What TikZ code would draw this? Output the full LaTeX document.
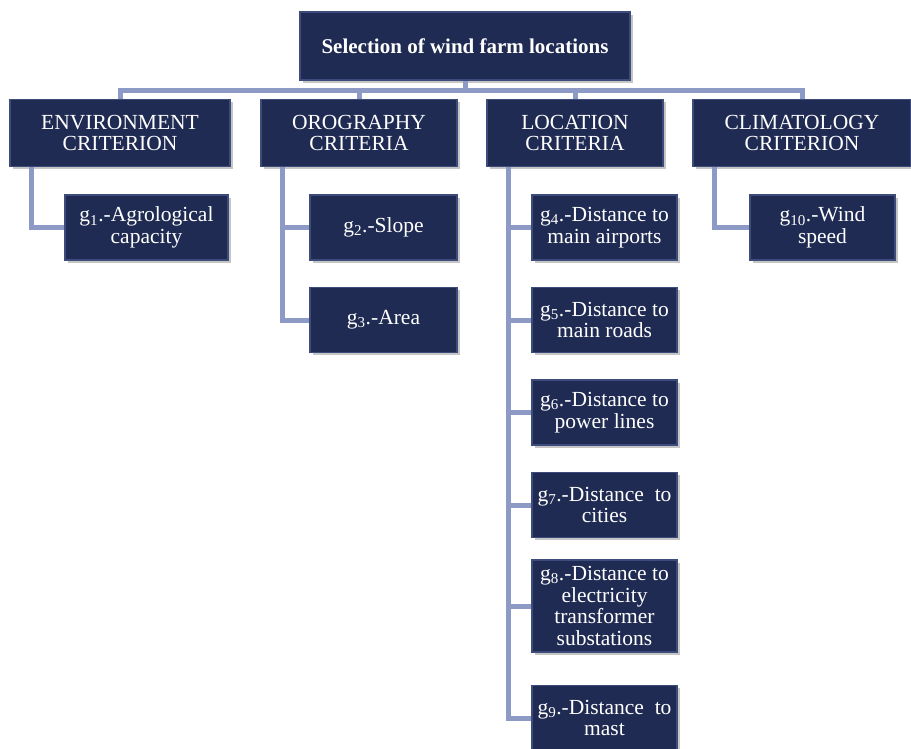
\documentclass[tikz,border=0pt]{standalone}
\usepackage{fontspec}
\setmainfont{Liberation Serif}
\usetikzlibrary{shadows}
\definecolor{navy}{HTML}{1F2B52}
\definecolor{rim}{HTML}{3E4C7C}
\definecolor{steel}{HTML}{8D9AC6}
\begin{document}
\begin{tikzpicture}[x=1pt, y=-1pt,
	box/.style = {draw=rim, line width=1.2pt, fill=navy, text=white, align=center,
		inner sep=2pt, minimum height=65pt,
		drop shadow={shadow xshift=2.5pt, shadow yshift=-2.5pt, fill=black!45},
		font=\fontsize{21.5}{21.5}\selectfont},
	head/.style = {box, minimum height=67pt},
	link/.style = {steel, line width=5pt}]
		\useasboundingbox (0,0) rectangle (911,748);
		%Laatikot
		\node[box, minimum width=330pt, minimum height=68pt, font=\fontsize{21}{20}\selectfont\bfseries] (title) at (465,46) {Selection of wind farm locations};
		\node[head, minimum width=220pt] (env) at (120,133) {ENVIRONMENT\\CRITERION};
		\node[head, minimum width=196pt] (oro) at (359,133) {OROGRAPHY\\CRITERIA};
		\node[head, minimum width=176pt] (loc) at (575,133) {LOCATION\\CRITERIA};
		\node[head, minimum width=218pt] (cli) at (802,133) {CLIMATOLOGY\\CRITERION};
		\node[box, minimum width=163pt] (g1) at (146.5,227.5) {g\textsubscript{1}.-Agrological\\capacity};
		\node[box, minimum width=147pt] (g2) at (383.5,227.5) {g\textsubscript{2}.-Slope};
		\node[box, minimum width=147pt] (g3) at (383.5,320) {g\textsubscript{3}.-Area};
		\node[box, minimum width=145pt] (g4) at (604.5,227.5) {g\textsubscript{4}.-Distance to\\main airports};
		\node[box, minimum width=145pt] (g5) at (604.5,320) {g\textsubscript{5}.-Distance to\\main roads};
		\node[box, minimum width=145pt] (g6) at (604.5,412.5) {g\textsubscript{6}.-Distance to\\power lines};
		\node[box, minimum width=145pt] (g7) at (604.5,505) {g\textsubscript{7}.-Distance\ \ to\\cities};
		\node[box, minimum width=145pt, minimum height=92pt] (g8) at (604.5,606) {g\textsubscript{8}.-Distance to\\electricity\\transformer\\substations};
		\node[box, minimum width=145pt] (g9) at (604.5,718) {g\textsubscript{9}.-Distance\ \ to\\mast};
		\node[box, minimum width=145pt] (g10) at (822.5,227.5) {g\textsubscript{10}.-Wind\\speed};
		% Yhteydet
		\coordinate (bar) at (465,90);
		\draw[link] (title.south) -- (bar);				% title
		\draw[link] (env.north) |- (bar) -| (cli.north);		% env - cli
		\draw[link] (oro.north) -- (oro.north |- bar);			% oro
		\draw[link] (loc.north) -- (loc.north |- bar);			% loc
		\draw[link] ([xshift=22pt]env.south west) |- (g1.west);	% env - g1
		\draw[link] ([xshift=22pt]oro.south west) |- (g3.west);	% oro - g3
		\draw[link] ([xshift=22pt]loc.south west) |- (g9.west);	% loc - g9
		\draw[link] ([xshift=22pt]cli.south west) |- (g10.west);	% cli - g10
		\draw[link] (g2.west) -- ([xshift=22pt]oro.south west |- g2.west);	% g2
		\draw[link] (g4.west) -- ([xshift=22pt]loc.south west |- g4.west);	% g4
		\draw[link] (g5.west) -- ([xshift=22pt]loc.south west |- g5.west);	% g5
		\draw[link] (g6.west) -- ([xshift=22pt]loc.south west |- g6.west);	% g6
		\draw[link] (g7.west) -- ([xshift=22pt]loc.south west |- g7.west);	% g7
		\draw[link] (g8.west) -- ([xshift=22pt]loc.south west |- g8.west);	% g8
\end{tikzpicture}
\end{document}
